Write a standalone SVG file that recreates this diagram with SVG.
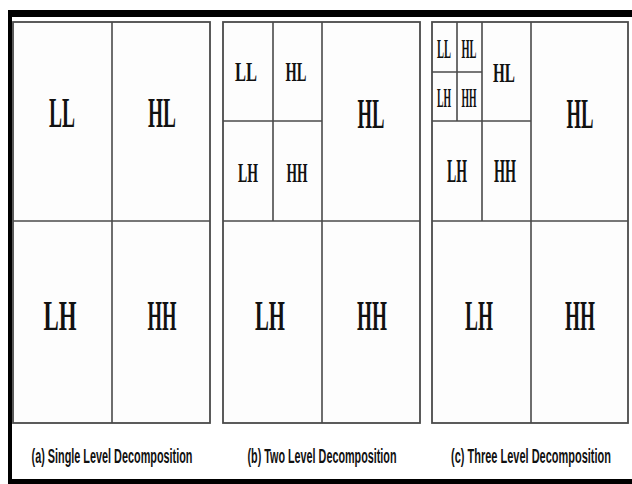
<svg xmlns="http://www.w3.org/2000/svg" width="632" height="484" viewBox="0 0 632 484">
<style>
.ln{stroke:#4a4a4a;stroke-width:1.6;fill:none}
.box{stroke:#4a4a4a;stroke-width:1.8;fill:#fdfdfd}
.lb{font-family:"Liberation Serif",serif;font-weight:bold;fill:#111;text-anchor:middle}
.L{font-size:42px}
.M{font-size:33px}
.S{font-size:27px}
.cap{font-family:"Liberation Sans",sans-serif;font-weight:bold;font-size:21px;fill:#111;text-anchor:middle}
</style>
<rect x="0" y="0" width="632" height="484" fill="#ffffff"/>
<g id="frame">
<rect x="8" y="10" width="624" height="7" fill="#000"/>
<rect x="8" y="10" width="4" height="474" fill="#000"/>
<rect x="8" y="479" width="624" height="5" fill="#000"/>
</g>
<g id="panel-a">
<rect class="box" x="13" y="22" width="197" height="401"/>
<g class="ln"><line x1="112" y1="22" x2="112" y2="423"/><line x1="13" y1="221" x2="210" y2="221"/></g>
<text class="lb L" transform="translate(62,127) scale(0.464,1)">LL</text>
<text class="lb L" transform="translate(162,127) scale(0.461,1)">HL</text>
<text class="lb L" transform="translate(60,330) scale(0.544,1)">LH</text>
<text class="lb L" transform="translate(162,330) scale(0.443,1)">HH</text>
<text class="cap" transform="translate(112,463) scale(0.517,1)">(a) Single Level Decomposition</text>
</g>
<g id="panel-b">
<rect class="box" x="223" y="22" width="197" height="401"/>
<g class="ln"><line x1="322" y1="22" x2="322" y2="423"/><line x1="223" y1="221" x2="420" y2="221"/><line x1="273" y1="22" x2="273" y2="221"/><line x1="223" y1="121" x2="322" y2="121"/></g>
<text class="lb S" transform="translate(246,81) scale(0.611,1)">LL</text>
<text class="lb S" transform="translate(296,81) scale(0.538,1)">HL</text>
<text class="lb S" transform="translate(248,182) scale(0.513,1)">LH</text>
<text class="lb S" transform="translate(297,182) scale(0.5,1)">HH</text>
<text class="lb L" transform="translate(371,128) scale(0.445,1)">HL</text>
<text class="lb L" transform="translate(270,330) scale(0.494,1)">LH</text>
<text class="lb L" transform="translate(372,330) scale(0.459,1)">HH</text>
<text class="cap" transform="translate(322,463) scale(0.514,1)">(b) Two Level Decomposition</text>
</g>
<g id="panel-c">
<rect class="box" x="432" y="22" width="196" height="401"/>
<g class="ln"><line x1="531" y1="22" x2="531" y2="423"/><line x1="432" y1="221" x2="628" y2="221"/><line x1="482" y1="22" x2="482" y2="221"/><line x1="432" y1="121" x2="531" y2="121"/><line x1="457" y1="22" x2="457" y2="121"/><line x1="432" y1="72" x2="482" y2="72"/></g>
<text class="lb S" transform="translate(444,58) scale(0.389,1)">LL</text>
<text class="lb S" transform="translate(469,58) scale(0.385,1)">HL</text>
<text class="lb S" transform="translate(444,107) scale(0.359,1)">LH</text>
<text class="lb S" transform="translate(469,107) scale(0.357,1)">HH</text>
<text class="lb S" transform="translate(504,82) scale(0.564,1)">HL</text>
<text class="lb M" transform="translate(457,182) scale(0.419,1)">LH</text>
<text class="lb M" transform="translate(505,182) scale(0.429,1)">HH</text>
<text class="lb L" transform="translate(580,128) scale(0.445,1)">HL</text>
<text class="lb L" transform="translate(479,330) scale(0.461,1)">LH</text>
<text class="lb L" transform="translate(580,330) scale(0.459,1)">HH</text>
<text class="cap" transform="translate(531,463) scale(0.523,1)">(c) Three Level Decomposition</text>
</g>
</svg>
